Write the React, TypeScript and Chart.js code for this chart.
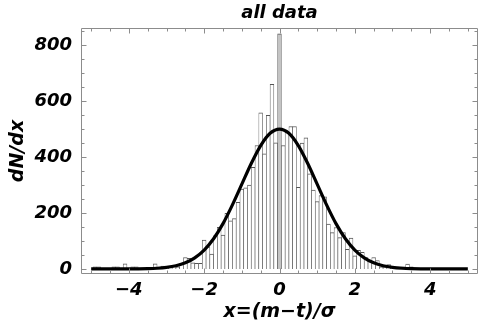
import React, { useEffect, useRef } from "react";
import { Chart, registerables } from "chart.js";

Chart.register(...registerables);

// ---------- data ----------
const binCenters = [
  -5.0, -4.9, -4.8, -4.7, -4.6, -4.5, -4.4, -4.3, -4.2, -4.1,
  -4.0, -3.9, -3.8, -3.7, -3.6, -3.5, -3.4, -3.3, -3.2, -3.1,
  -3.0, -2.9, -2.8, -2.7, -2.6, -2.5, -2.4, -2.3, -2.2, -2.1,
  -2.0, -1.9, -1.8, -1.7, -1.6, -1.5, -1.4, -1.3, -1.2, -1.1,
  -1.0, -0.9, -0.8, -0.7, -0.6, -0.5, -0.4, -0.3, -0.2, -0.1,
  0.0, 0.1, 0.2, 0.3, 0.4, 0.5, 0.6, 0.7, 0.8, 0.9,
  1.0, 1.1, 1.2, 1.3, 1.4, 1.5, 1.6, 1.7, 1.8, 1.9,
  2.0, 2.1, 2.2, 2.3, 2.4, 2.5, 2.6, 2.7, 2.8, 2.9,
  3.0, 3.1, 3.2, 3.3, 3.4, 3.5, 3.6, 3.7, 3.8, 3.9,
  4.0, 4.1, 4.2, 4.3, 4.4, 4.5, 4.6, 4.7, 4.8, 4.9,
  5.0,
];

const binCounts = [
  0, 8, 8, 0, 0, 0, 8, 8, 0, 18,
  0, 8, 8, 0, 0, 0, 0, 18, 0, 10,
  8, 8, 10, 8, 20, 41, 38, 22, 20, 20,
  103, 79, 53, 119, 149, 121, 199, 172, 180, 238,
  285, 290, 300, 363, 441, 558, 411, 549, 660, 451,
  840, 441, 490, 509, 509, 292, 450, 469, 340, 282,
  241, 262, 258, 160, 130, 148, 112, 130, 70, 110,
  47, 67, 59, 41, 30, 41, 30, 8, 8, 16,
  8, 8, 8, 8, 17, 8, 0, 0, 0, 0,
  0, 0, 0, 0, 0, 0, 0, 0, 0, 0,
  0,
];

const highlightedBin = 0.0;

const curveX = [
  -5, -4.75, -4.5, -4.25, -4, -3.75, -3.5, -3.25, -3, -2.75,
  -2.5, -2.25, -2, -1.75, -1.5, -1.25, -1, -0.75, -0.5, -0.25,
  0,
  0.25, 0.5, 0.75, 1, 1.25, 1.5, 1.75, 2, 2.25, 2.5,
  2.75, 3, 3.25, 3.5, 3.75, 4, 4.25, 4.5, 4.75, 5,
];
const curveY = [
  0, 0, 0, 0, 0.2, 0.4, 1.1, 2.6, 5.6, 11.4,
  21.9, 39.8, 67.7, 108, 162, 229, 303, 377, 441, 485,
  500,
  485, 441, 377, 303, 229, 162, 108, 67.7, 39.8, 21.9,
  11.4, 5.6, 2.6, 1.1, 0.4, 0.2, 0, 0, 0, 0,
];

const xTickValues = [-4, -2, 0, 2, 4];
const yTickValues = [0, 200, 400, 600, 800];
const xMinorTicks = [
  -5, -4.5, -4, -3.5, -3, -2.5, -2, -1.5, -1, -0.5, 0,
  0.5, 1, 1.5, 2, 2.5, 3, 3.5, 4, 4.5, 5,
];
const yMinorTicks = [0, 50, 100, 150, 200, 250, 300, 350, 400, 450, 500, 550, 600, 650, 700, 750, 800, 850];

const titleText = "all data";
const xTitleText = "x=(m\u2212t)/\u03c3";
const yTitleText = "dN/dx";

const X_MIN = -5.27;
const X_MAX = 5.27;
const Y_MIN = -18;
const Y_MAX = 861;

const FONT_FAMILY = "'DejaVu Sans', 'Liberation Sans', sans-serif";

const fmt = (v: number) => (v < 0 ? "\u2212" + Math.abs(v) : String(v));

const framePlugin = {
  id: "frameTicks",
  afterDraw(chart: any) {
    const { ctx, chartArea: a, scales } = chart;
    const xs = scales.x;
    const ys = scales.y;
    ctx.save();
    ctx.strokeStyle = "#8c8c8c";
    ctx.lineWidth = 1;
    const L = a.left + 0.5;
    const R = a.right - 0.5;
    const T = a.top + 0.5;
    const B = a.bottom - 0.5;
    ctx.beginPath();
    ctx.rect(L, T, R - L, B - T);
    ctx.stroke();
    ctx.beginPath();
    xMinorTicks.forEach((v) => {
      const px = Math.round(xs.getPixelForValue(v)) + 0.5;
      const len = xTickValues.includes(v) ? 5 : 3;
      ctx.moveTo(px, B);
      ctx.lineTo(px, B - len);
      ctx.moveTo(px, T);
      ctx.lineTo(px, T + len);
    });
    yMinorTicks.forEach((v) => {
      const py = Math.round(ys.getPixelForValue(v)) + 0.5;
      const len = yTickValues.includes(v) ? 5 : 3;
      ctx.moveTo(L, py);
      ctx.lineTo(L + len, py);
      ctx.moveTo(R, py);
      ctx.lineTo(R - len, py);
    });
    ctx.stroke();
    // title
    ctx.fillStyle = "#000";
    ctx.font = `italic bold 18px ${FONT_FAMILY}`;
    ctx.textAlign = "center";
    ctx.textBaseline = "alphabetic";
    ctx.fillText(titleText, (a.left + a.right) / 2, 17.5);
    ctx.restore();
  },
};

export default function App() {
  const canvasRef = useRef<HTMLCanvasElement | null>(null);

  useEffect(() => {
    const canvas = canvasRef.current;
    if (!canvas) return;
    const barData = binCenters.map((x, i) => ({ x, y: binCounts[i] }));
    const curveData = curveX.map((x, i) => ({ x, y: curveY[i] }));
    const barFill = binCenters.map((x) => (x === highlightedBin ? "#c4c4c4" : "#ffffff"));

    const chart = new Chart(canvas, {
      type: "bar",
      data: {
        datasets: [
          {
            type: "line",
            data: curveData,
            borderColor: "#000000",
            borderWidth: 3.2,
            pointRadius: 0,
            cubicInterpolationMode: "monotone",
            fill: false,
            order: 0,
          } as any,
          {
            type: "bar",
            data: barData,
            backgroundColor: barFill,
            borderColor: "#555555",
            borderWidth: { left: 0.65, right: 0.65, top: 1, bottom: 0 },
            borderSkipped: false,
            barPercentage: 1,
            categoryPercentage: 1,
            order: 1,
          } as any,
        ],
      },
      options: {
        animation: false,
        responsive: false,
        devicePixelRatio: 1,
        layout: { padding: { top: 28, right: 8, left: 0, bottom: 0 } },
        plugins: {
          legend: { display: false },
          tooltip: { enabled: false },
          title: { display: false },
        },
        scales: {
          x: {
            type: "linear",
            min: X_MIN,
            max: X_MAX,
            offset: false,
            grid: { display: false, drawTicks: false },
            border: { display: false },
            afterFit: (s: any) => {
              s.height = 53;
            },
            afterBuildTicks: (s: any) => {
              s.ticks = xTickValues.map((v) => ({ value: v }));
            },
            ticks: {
              autoSkip: false,
              maxRotation: 0,
              padding: 6,
              color: "#000",
              font: { family: FONT_FAMILY, size: 18, weight: "bold", style: "italic" },
              callback: (v: any) => fmt(Number(v)),
            },
            title: {
              display: true,
              text: xTitleText,
              color: "#000",
              font: { family: FONT_FAMILY, size: 19, weight: "bold", style: "italic" },
              padding: { top: 0, bottom: 4 },
            },
          },
          y: {
            type: "linear",
            min: Y_MIN,
            max: Y_MAX,
            grid: { display: false, drawTicks: false },
            border: { display: false },
            afterFit: (s: any) => {
              s.width = 81;
            },
            afterBuildTicks: (s: any) => {
              s.ticks = yTickValues.map((v) => ({ value: v }));
            },
            ticks: {
              padding: 9,
              color: "#000",
              font: { family: FONT_FAMILY, size: 18, weight: "bold", style: "italic" },
              callback: (v: any) => fmt(Number(v)),
            },
            title: {
              display: true,
              text: yTitleText,
              color: "#000",
              font: { family: FONT_FAMILY, size: 19, weight: "bold", style: "italic" },
              padding: { top: 7, bottom: 0 },
            },
          },
        },
      } as any,
      plugins: [framePlugin],
    });
    return () => chart.destroy();
  }, []);

  return (
    <div style={{ position: "fixed", left: 0, top: 0, width: 486, height: 327, background: "#fff" }}>
      <canvas ref={canvasRef} width={486} height={327} style={{ display: "block" }} />
    </div>
  );
}
